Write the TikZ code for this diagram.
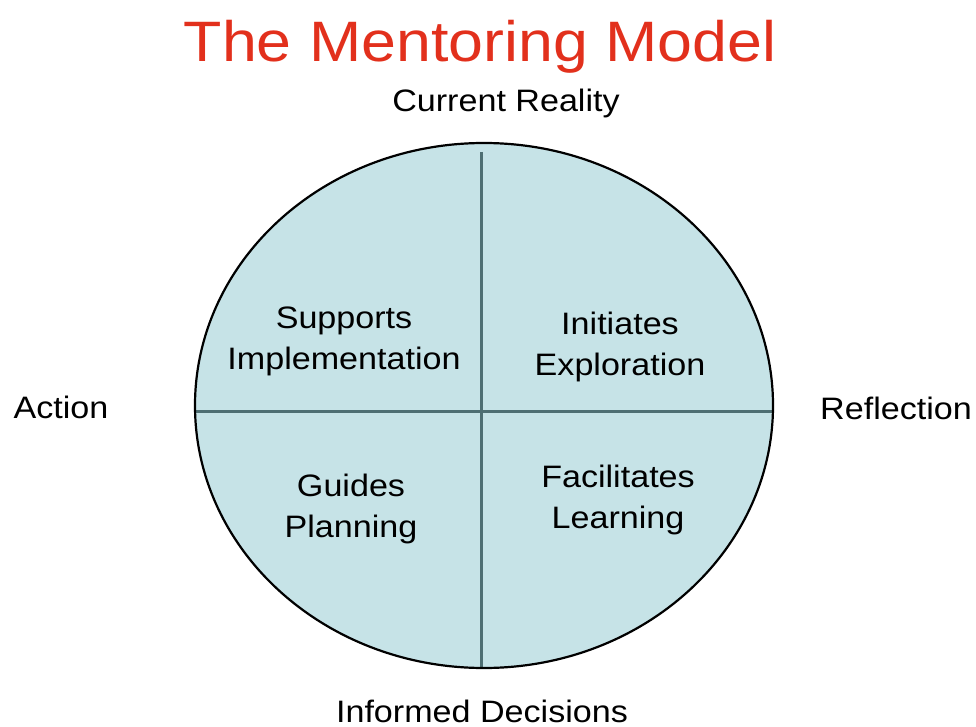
\documentclass[tikz,border=0pt]{standalone}
\usepackage{fontspec}
\setmainfont[FakeStretch=1.1]{Liberation Sans}
\definecolor{quadfill}{HTML}{C6E3E7}
\definecolor{divider}{HTML}{4E6F73}
\definecolor{titlered}{HTML}{E2301C}
\begin{document}
\begin{tikzpicture}[x=1pt,y=-1pt,
  label/.style={font=\fontsize{31}{41}\selectfont, text=black, inner sep=0pt, anchor=base, align=center},
  heading/.style={font=\fontsize{57}{60}\selectfont, text=titlered, inner sep=0pt, anchor=base},
  divline/.style={draw=divider, line width=3pt}]
  \useasboundingbox (0,0) rectangle (976,727);

  % title
  \node[heading] (title) at (480,62) {The Mentoring Model};

  % the model: a filled ellipse cut into four quadrants
  \fill[quadfill] (484,405.5) ellipse [x radius=289, y radius=262.5];
  \coordinate (top) at (481,152);
  \coordinate (bottom) at (481,668);
  \coordinate (left) at (195,411);
  \coordinate (right) at (773,411);
  \draw[divline] (top) -- (bottom);
  \draw[divline] (left) -- (right);
  \draw[black, line width=2.2pt] (484,405.5) ellipse [x radius=289, y radius=262.5];

  % axis labels
  \node[label] (reality) at (506,112) {Current Reality};
  \node[label] (decisions) at (482,722) {Informed Decisions};
  \node[label] (action) at (61,418) {Action};
  \node[label] (reflection) at (896,419) {Reflection};

  % quadrant labels (placed by the baseline of their last line)
  \node[label] (supports) at (344,369) {Supports\\Implementation};
  \node[label] (initiates) at (620,375) {Initiates\\Exploration};
  \node[label] (guides) at (351,537) {Guides\\Planning};
  \node[label] (facilitates) at (618,528) {Facilitates\\Learning};
\end{tikzpicture}
\end{document}
